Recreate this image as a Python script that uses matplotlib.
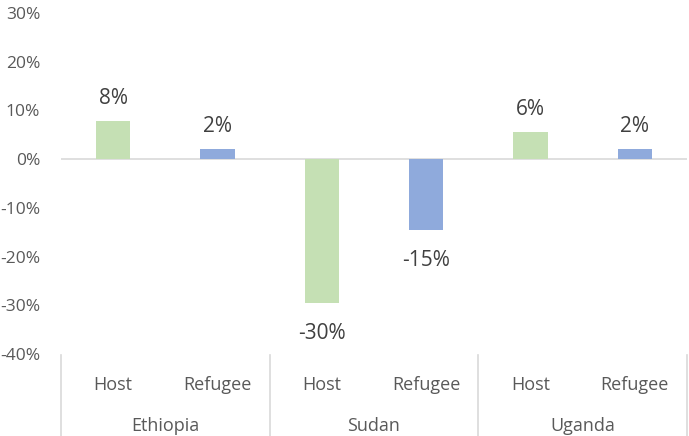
import matplotlib
matplotlib.use("Agg")
import matplotlib.pyplot as plt
from matplotlib.ticker import FixedLocator, FuncFormatter

countries = ["Ethiopia", "Sudan", "Uganda"]
groups = ["Host", "Refugee"]
values = [7.8, 2.1, -29.6, -14.6, 5.6, 2.1]
labels = ["8%", "2%", "-30%", "-15%", "6%", "2%"]
yticks = [-40, -30, -20, -10, 0, 10, 20, 30]

colors = ["#C5E0B4", "#8FAADC"]
plt.rcParams['font.family'] = ['Open Sans', 'DejaVu Sans']

fig = plt.figure(figsize=(6.89, 4.36), dpi=100)
ax = fig.add_axes([61/689, 1-354/436, 626/689, 341/436])

n = len(values)
xs = list(range(n))
ax.bar(xs, values, width=0.33, color=[colors[i % 2] for i in range(n)], zorder=2)
ax.set_xlim(-0.5, n - 0.5)
ax.set_ylim(-40, 30)
ax.axhline(0, color="#D9D9D9", lw=1.2, zorder=1)

for s in ax.spines.values():
    s.set_visible(False)
ax.yaxis.set_major_locator(FixedLocator(yticks))
ax.yaxis.set_major_formatter(FuncFormatter(lambda v, p: f"{int(v)}%"))
ax.tick_params(axis="y", length=0, labelsize=12.5, labelcolor="#595959", pad=15)
ax.set_xticks([])

for x, v, lab in zip(xs, values, labels):
    if v >= 0:
        ax.annotate(lab, (x, v), xytext=(0, 8.5), textcoords="offset points",
                    ha="center", va="bottom", fontsize=15, color="#404040")
    else:
        ax.annotate(lab, (x, v), xytext=(0, -14.5), textcoords="offset points",
                    ha="center", va="top", fontsize=15, color="#404040")

tr = ax.get_xaxis_transform()
for i in range(n):
    ax.text(i, -0.092, groups[i % 2], transform=tr, ha="center", va="center",
            fontsize=13, color="#595959")
for j, c in enumerate(countries):
    ax.text(2 * j + 0.5, -0.212, c, transform=tr, ha="center", va="center",
            fontsize=13, color="#595959")
for b in [-0.5, 1.5, 3.5, 5.5]:
    ax.plot([b, b], [-0.002, -0.25], transform=tr, color="#D9D9D9", lw=1.2, clip_on=False)

fig.savefig("out.png", dpi=100)
